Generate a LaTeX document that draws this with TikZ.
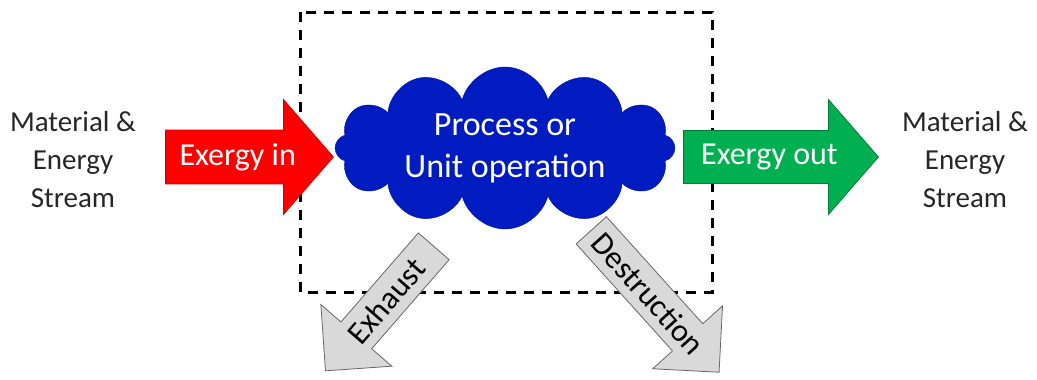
\documentclass[tikz,border=0pt]{standalone}
\usepackage{fontspec}
\setmainfont{Carlito}
\usetikzlibrary{shapes.arrows,shapes.symbols}

\definecolor{inred}{RGB}{255,0,0}
\definecolor{outgreen}{RGB}{0,176,80}
\definecolor{cloudblue}{RGB}{0,28,192}
\definecolor{lossgray}{RGB}{217,217,217}

\tikzstyle{flow}=[
    single arrow,
    single arrow head extend=28pt,
    single arrow tip angle=98,
    minimum width=115pt,
    inner xsep=1pt,
    inner ysep=10.5pt,
    line width=0.8pt,
    font=\fontsize{32}{38}\selectfont,
    text=white
]
\tikzstyle{loss}=[
    single arrow,
    single arrow head extend=23pt,
    single arrow tip angle=90,
    minimum width=94pt,
    inner xsep=1pt,
    inner ysep=6pt,
    fill=lossgray,
    draw=black!60,
    line width=0.8pt,
    font=\fontsize{32}{38}\selectfont
]
\tikzstyle{stream}=[
    align=center,
    font=\fontsize{29}{38}\selectfont,
    text=black!85
]
\tikzstyle{boundary}=[
    dashed,
    dash pattern=on 10pt off 8pt,
    line width=3pt
]

\begin{document}
\begin{tikzpicture}[x=1pt, y=-1pt]
    \clip (0,0) rectangle (1037,380);

    % control volume
    \draw[boundary] (300,12) rectangle (712,292);

    \node[cloud, cloud puffs=12, cloud ignores aspect, inner sep=0pt,
        fill=cloudblue, draw=cloudblue!80!black,
        minimum width=340pt, minimum height=162pt,
        text=white, align=center, font=\fontsize{34}{42}\selectfont]
        (unit) at (505,148) {Process or\\Unit operation};

    % streams in and out
    \node[flow, fill=inred, draw=inred!80!black, minimum height=168pt,
        anchor=tail] (exin) at (165,157) {Exergy in};
    \node[flow, fill=outgreen, draw=outgreen!70!black, minimum height=195pt,
        anchor=tail] (exout) at (683,157) {Exergy out};

    % losses
    \node[loss, minimum height=165pt, shape border rotate=180, rotate=49,
        anchor=tail] (exhaust) at (434,246) {Exhaust};
    \node[loss, minimum height=191pt, rotate=-48,
        anchor=tail] (destr) at (591,230) {Destruction};

    \node[stream] (matin) at (73,160) {Material \&\\Energy\\Stream};
    \node[stream] (matout) at (965,160) {Material \&\\Energy\\Stream};
\end{tikzpicture}
\end{document}
